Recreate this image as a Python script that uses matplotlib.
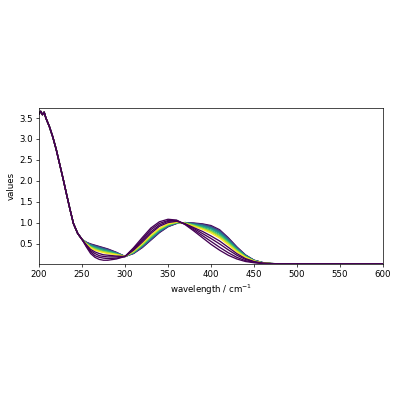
import matplotlib
matplotlib.use("Agg")
import matplotlib.pyplot as plt
import numpy as np

# common start of every spectrum (200-250 nm)
wl_head = [200, 202, 204, 206, 208, 212, 216, 220, 224, 228, 232, 236, 240, 245, 250]
val_head = [3.60, 3.66, 3.58, 3.64, 3.50, 3.30, 3.05, 2.75, 2.40, 2.05, 1.68, 1.32, 0.98, 0.74, 0.60]

# region where the spectra differ
wl_mid = [255, 260, 265, 270, 275, 280, 290, 300, 310, 320, 330, 340, 350, 360,
          370, 380, 390, 400, 410, 420, 430, 440, 450, 460, 470]

spectra = [
    [0.53, 0.49, 0.46, 0.43, 0.40, 0.37, 0.29, 0.19, 0.26, 0.40, 0.58, 0.76, 0.90, 0.98, 1.00, 0.99, 0.97, 0.93, 0.83, 0.64, 0.42, 0.23, 0.10, 0.045, 0.02],
    [0.53, 0.48, 0.45, 0.42, 0.39, 0.36, 0.28, 0.19, 0.27, 0.41, 0.59, 0.77, 0.91, 0.98, 1.00, 0.98, 0.96, 0.91, 0.81, 0.63, 0.41, 0.22, 0.10, 0.044, 0.02],
    [0.52, 0.47, 0.44, 0.41, 0.38, 0.35, 0.28, 0.19, 0.27, 0.42, 0.60, 0.78, 0.91, 0.99, 1.00, 0.98, 0.95, 0.90, 0.80, 0.61, 0.40, 0.22, 0.10, 0.043, 0.02],
    [0.52, 0.47, 0.43, 0.40, 0.37, 0.34, 0.27, 0.19, 0.28, 0.43, 0.61, 0.79, 0.92, 0.99, 1.00, 0.97, 0.94, 0.88, 0.78, 0.60, 0.39, 0.21, 0.09, 0.042, 0.02],
    [0.51, 0.46, 0.42, 0.39, 0.36, 0.33, 0.27, 0.19, 0.28, 0.44, 0.62, 0.80, 0.93, 0.99, 0.99, 0.96, 0.92, 0.87, 0.76, 0.58, 0.38, 0.21, 0.09, 0.041, 0.02],
    [0.51, 0.45, 0.40, 0.37, 0.34, 0.32, 0.26, 0.19, 0.29, 0.45, 0.64, 0.81, 0.93, 1.00, 0.99, 0.95, 0.91, 0.85, 0.74, 0.56, 0.37, 0.20, 0.09, 0.040, 0.02],
    [0.50, 0.43, 0.39, 0.36, 0.33, 0.31, 0.25, 0.19, 0.29, 0.46, 0.65, 0.82, 0.94, 1.00, 0.99, 0.94, 0.89, 0.82, 0.71, 0.54, 0.35, 0.19, 0.09, 0.039, 0.02],
    [0.50, 0.42, 0.38, 0.34, 0.31, 0.29, 0.24, 0.19, 0.30, 0.47, 0.66, 0.84, 0.95, 1.00, 0.99, 0.94, 0.87, 0.80, 0.69, 0.52, 0.34, 0.18, 0.08, 0.038, 0.02],
    [0.49, 0.41, 0.36, 0.32, 0.30, 0.28, 0.24, 0.19, 0.31, 0.48, 0.68, 0.85, 0.96, 1.01, 0.98, 0.92, 0.86, 0.78, 0.66, 0.50, 0.32, 0.18, 0.08, 0.036, 0.02],
    [0.49, 0.40, 0.34, 0.31, 0.28, 0.26, 0.23, 0.19, 0.32, 0.50, 0.70, 0.86, 0.97, 1.01, 0.98, 0.91, 0.84, 0.75, 0.63, 0.47, 0.30, 0.17, 0.08, 0.035, 0.02],
    [0.47, 0.36, 0.30, 0.26, 0.23, 0.22, 0.20, 0.19, 0.34, 0.53, 0.74, 0.91, 1.00, 1.03, 0.97, 0.88, 0.79, 0.68, 0.56, 0.41, 0.26, 0.14, 0.07, 0.031, 0.02],
    [0.45, 0.33, 0.26, 0.21, 0.19, 0.18, 0.18, 0.19, 0.36, 0.57, 0.78, 0.94, 1.03, 1.04, 0.97, 0.86, 0.74, 0.62, 0.49, 0.35, 0.22, 0.12, 0.06, 0.028, 0.02],
    [0.44, 0.30, 0.21, 0.17, 0.15, 0.14, 0.15, 0.19, 0.38, 0.60, 0.83, 0.98, 1.05, 1.05, 0.96, 0.83, 0.69, 0.55, 0.41, 0.28, 0.17, 0.09, 0.05, 0.024, 0.018],
    [0.42, 0.26, 0.17, 0.12, 0.10, 0.10, 0.13, 0.19, 0.40, 0.64, 0.87, 1.02, 1.08, 1.06, 0.95, 0.80, 0.64, 0.48, 0.34, 0.22, 0.13, 0.07, 0.04, 0.020, 0.015],
]

# common tail of every spectrum
wl_tail = [480, 500, 600]
val_tail = [0.015, 0.012, 0.01]

n_colored = 10
cmap = plt.get_cmap("viridis")
colors = [cmap(i / (n_colored - 1)) for i in range(n_colored)] + ["#440154"] * (len(spectra) - n_colored)

fig = plt.figure(figsize=(6.4, 6.4), dpi=62.5)
ax = fig.add_axes([0.0975, 0.34, 0.86, 0.39])

wl = wl_head + wl_mid + wl_tail
for spec, c in zip(spectra, colors):
    ax.plot(wl, val_head + spec + val_tail, color=c, lw=1.5)

ax.set_xlim(200, 600)
ax.set_ylim(0.01, 3.74)
ax.set_yticks([0.5, 1.0, 1.5, 2.0, 2.5, 3.0, 3.5])
ax.set_xlabel("wavelength / cm$^{-1}$")
ax.set_ylabel("values")

fig.savefig("out.png", dpi=62.5)
